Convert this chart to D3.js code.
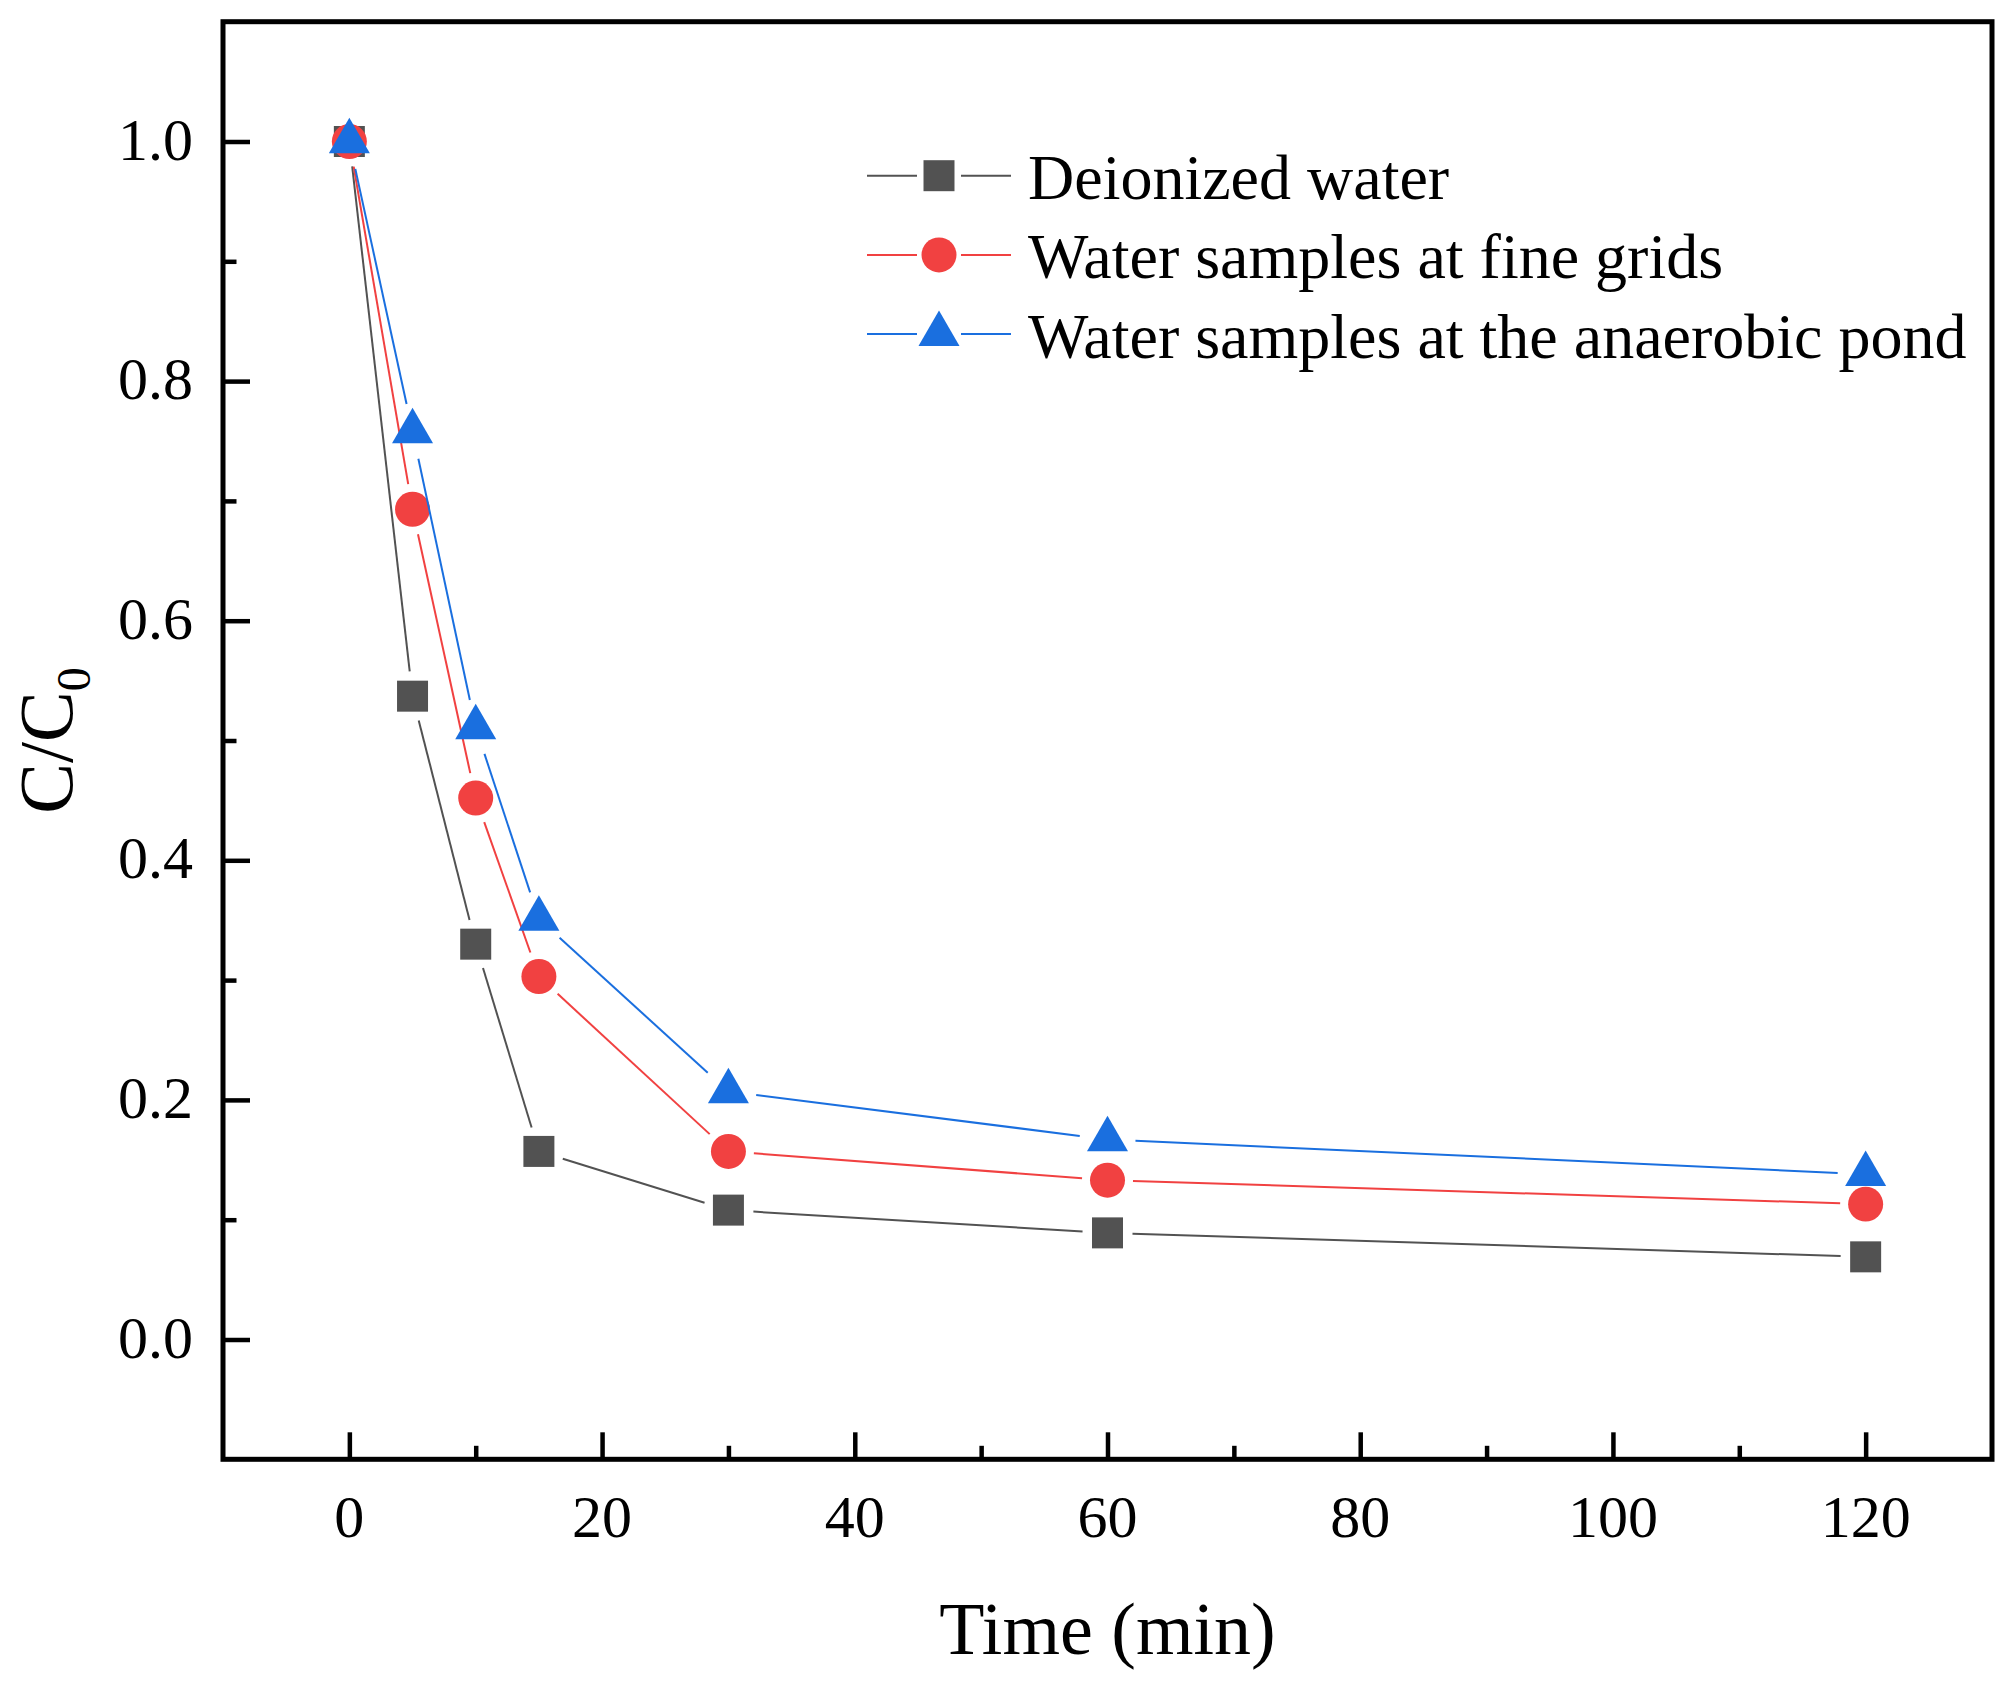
<!DOCTYPE html>
<html>
<head>
<meta charset="utf-8">
<script src="https://cdn.jsdelivr.net/npm/d3@7"></script>
<style>
  html,body{margin:0;padding:0;background:#fff;}
  text{font-family:"Liberation Serif","Times New Roman",serif;fill:#000;}
</style>
</head>
<body>
<svg id="chart" width="2014" height="1690"></svg>
<script>
/* data */
const timeMin   = [0, 5, 10, 15, 30, 60, 120];
const deionized = [1.0, 0.537, 0.330, 0.157, 0.108, 0.089, 0.069];
const fineGrids = [1.0, 0.693, 0.452, 0.303, 0.157, 0.133, 0.113];
const anaerobic = [1.0, 0.758, 0.511, 0.351, 0.207, 0.167, 0.138];

const seriesNames = ["Deionized water", "Water samples at fine grids", "Water samples at the anaerobic pond"];
const xTicks = [0, 20, 40, 60, 80, 100, 120];
const yTicks = [0, 0.2, 0.4, 0.6, 0.8, 1.0];

/* styles per series */
const styles = [
  {color:"#525252", sym:d3.symbolSquare,   size:961, gap:25},
  {color:"#F14141", sym:d3.symbolCircle,   size:962, gap:25.5},
  {color:"#1A6FDF", sym:d3.symbolTriangle, size:728, gap:28}
];
const series = [deionized, fineGrids, anaerobic];

const svg = d3.select("#chart");
const L = 223, R = 1992, T = 21.7, B = 1459.3;

const x = d3.scaleLinear().domain([-10, 130]).range([L, R]);
const y = d3.scaleLinear().domain([-0.1, 1.1]).range([B, T]);

/*────────── axes ──────────*/
// bottom: ticks point inward (up)
const gx = svg.append("g").attr("transform", `translate(0,${B})`);
gx.call(d3.axisBottom(x).tickValues(d3.range(0, 130, 10)).tickSize(-13.5).tickFormat(""));
gx.selectAll(".tick line").filter(d => d % 20 === 0).attr("y2", -27);
gx.selectAll(".tick line").attr("stroke", "#000").attr("stroke-width", 4.5);
gx.select(".domain").remove();
gx.selectAll(".lbl").data(xTicks).enter().append("text")
  .attr("x", d => x(d)).attr("y", 78).attr("text-anchor", "middle")
  .style("font-size", "60px").text(d => d);

// left
const gy = svg.append("g").attr("transform", `translate(${L},0)`);
gy.call(d3.axisLeft(y).tickValues(d3.range(0, 11).map(i => i / 10)).tickSize(-13.5).tickFormat(""));
gy.selectAll(".tick line").filter(d => Math.round(d * 10) % 2 === 0).attr("x2", 27);
gy.selectAll(".tick line").attr("stroke", "#000").attr("stroke-width", 4.5);
gy.select(".domain").remove();
gy.selectAll(".lbl").data(yTicks).enter().append("text")
  .attr("x", -30).attr("y", d => y(d) + 18).attr("text-anchor", "end")
  .style("font-size", "60px").text(d => d.toFixed(1));

// frame
svg.append("rect").attr("x", L).attr("y", T).attr("width", R - L).attr("height", B - T)
  .attr("fill", "none").attr("stroke", "#000").attr("stroke-width", 5);

/*────────── series ──────────*/
series.forEach((vals, i) => {
  const st = styles[i];
  const pts = timeMin.map((t, k) => [x(t), y(vals[k])]);
  const g = svg.append("g");

  // connecting lines, trimmed short of each symbol
  d3.pairs(pts).forEach(([a, b]) => {
    const dx = b[0] - a[0], dy = b[1] - a[1], len = Math.hypot(dx, dy);
    if (len <= 2 * st.gap) return;
    const ux = dx / len, uy = dy / len;
    g.append("line")
      .attr("x1", a[0] + ux * st.gap).attr("y1", a[1] + uy * st.gap)
      .attr("x2", b[0] - ux * st.gap).attr("y2", b[1] - uy * st.gap)
      .attr("stroke", st.color).attr("stroke-width", 2);
  });

  g.selectAll("path").data(pts).enter().append("path")
    .attr("transform", d => `translate(${d[0]},${d[1]})`)
    .attr("d", d3.symbol().type(st.sym).size(st.size))
    .attr("fill", st.color);
});

/*────────── legend ──────────*/
const legend = svg.append("g");
seriesNames.forEach((name, i) => {
  const st = styles[i], ly = 175.7 + i * 79.2;
  legend.append("line").attr("x1", 867).attr("x2", 917).attr("y1", ly).attr("y2", ly)
    .attr("stroke", st.color).attr("stroke-width", 2);
  legend.append("line").attr("x1", 961).attr("x2", 1011).attr("y1", ly).attr("y2", ly)
    .attr("stroke", st.color).attr("stroke-width", 2);
  legend.append("path").attr("transform", `translate(939,${ly})`)
    .attr("d", d3.symbol().type(st.sym).size(st.size)).attr("fill", st.color);
  legend.append("text").attr("x", 1028).attr("y", ly + 23.5)
    .style("font-size", "64px").text(name);
});

/*────────── axis titles ──────────*/
svg.append("text").attr("x", (L + R) / 2).attr("y", 1654).attr("text-anchor", "middle")
  .style("font-size", "74px").text("Time (min)");

const yt = svg.append("text").attr("transform", `translate(72,${(T + B) / 2}) rotate(-90)`)
  .attr("text-anchor", "middle").style("font-size", "76px");
yt.append("tspan").text("C/C");
yt.append("tspan").attr("dy", 18).style("font-size", "48px").text("0");
</script>
</body>
</html>
